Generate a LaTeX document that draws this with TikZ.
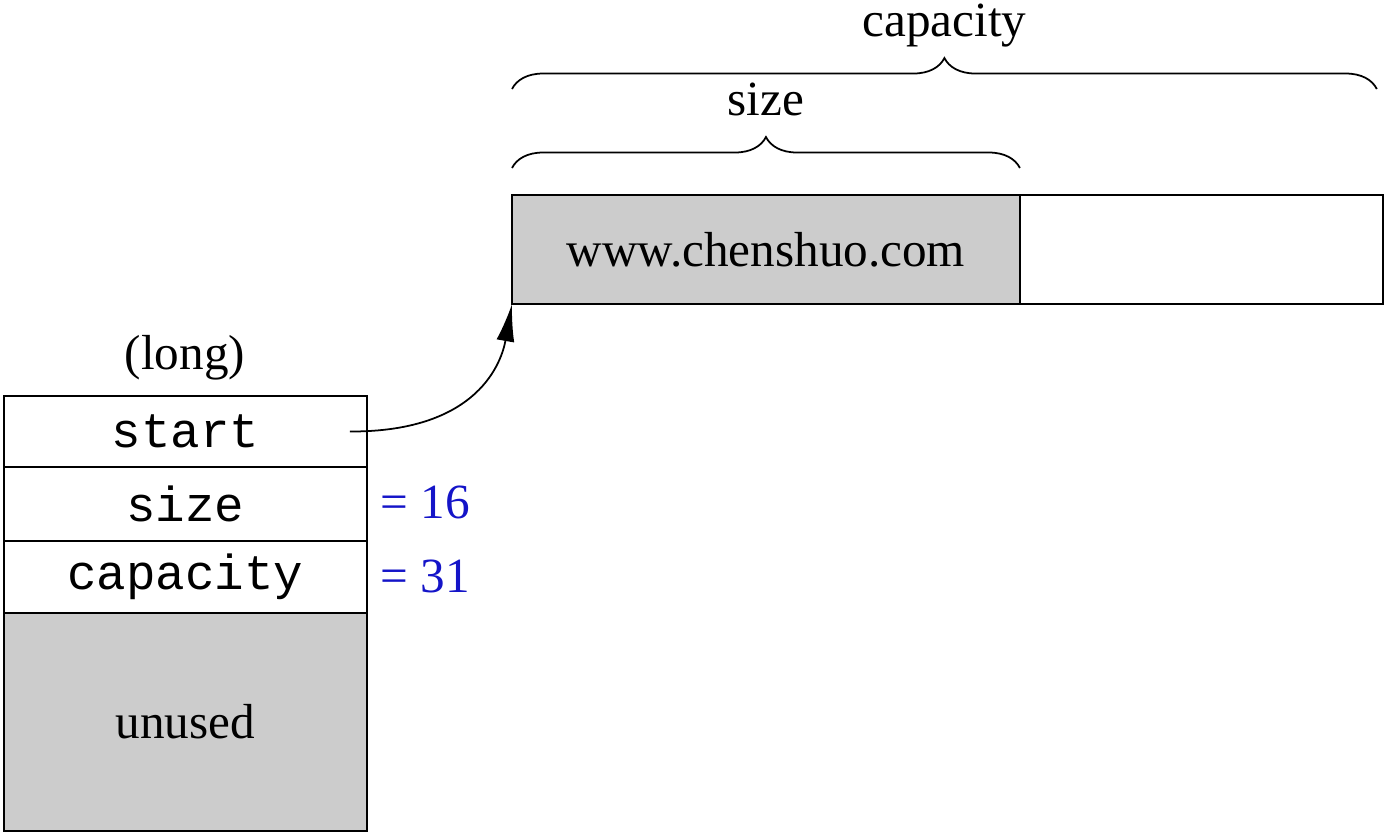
\documentclass[tikz,border=0pt]{standalone}
\usepackage{fontspec}
\setmainfont{Liberation Serif}
\setmonofont{Liberation Mono}
\usepackage{xcolor}
\usepackage{tikz}
\usetikzlibrary{arrows.meta,positioning,decorations.pathreplacing}
\definecolor{cellgray}{RGB}{204,204,204}
\definecolor{valblue}{RGB}{20,20,200}
\newcommand{\field}[1]{\texttt{#1}}

\begin{document}
\begin{tikzpicture}[x=0.02cm, y=-0.02cm, line width=1pt,
    every node/.style={font=\fontsize{28}{34}\selectfont},
    cell/.style={draw, inner sep=0pt, outer sep=0pt, minimum width=7.26cm},
    brace/.style={decorate, decoration={brace, amplitude=0.62cm}}]
  \useasboundingbox (0,0) rectangle (1392,836);

  % the string object: four words
  \node at (185,358) (kind) {(long)};
  \node[cell, minimum height=1.42cm, anchor=north west] (start) at (4,396) {\field{start}};
  \node[cell, minimum height=1.48cm, below=0pt of start] (size) {\field{size}};
  \node[cell, minimum height=1.44cm, below=0pt of size] (capacity) {\field{capacity}};
  \node[cell, fill=cellgray, minimum height=4.36cm, below=0pt of capacity] (unused) {unused};
  \node[anchor=west, text=valblue] (sizeval) at (374,502) {= 16};
  \node[anchor=west, text=valblue] (capval) at (374,576) {= 31};

  % the heap buffer
  \node[cell, fill=cellgray, minimum width=10.16cm, minimum height=2.18cm, anchor=north west]
    (data) at (512,195) {www.chenshuo.com};
  \node[cell, minimum height=2.18cm, right=0pt of data] (spare) {};

  % braces
  \draw[brace] ([yshift=0.54cm]data.north west) -- ([yshift=0.54cm]data.north east)
    node[midway, anchor=base, yshift=1.06cm] (sizelbl) {size};
  \draw[brace] ([yshift=2.12cm]data.north west) -- ([xshift=-0.12cm,yshift=2.12cm]spare.north east)
    node[midway, anchor=base, yshift=1.06cm] (caplbl) {capacity};

  % pointer
  \coordinate (ptr) at ([xshift=-0.34cm]start.east);
  \draw[-{Latex[length=0.75cm,width=0.36cm]}] (ptr) .. controls (480,432) and (502,360) .. (data.south west);
\end{tikzpicture}
\end{document}
